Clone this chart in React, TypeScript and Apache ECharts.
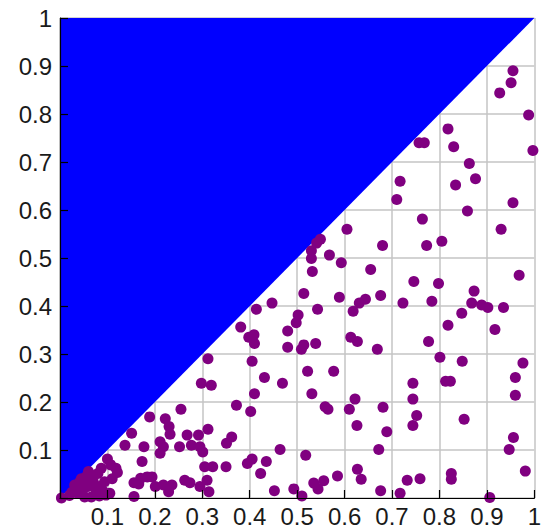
import React, { useEffect, useRef } from "react";
import * as echarts from "echarts";

// Boundary of the filled region (diagonal y = x, filled up to y = 1)
const diagonalX = [0, 1];
const diagonalY = [0, 1];

// Scatter points (x, y)
const pointsX = [
  0.955, 0.951, 0.927, 0.988, 0.818, 0.757, 0.768, 0.830, 0.997, 0.863,
  0.717, 0.876, 0.834, 0.710, 0.955, 0.859, 0.764, 0.605, 0.930, 0.680,
  0.773, 0.805, 0.549, 0.541, 0.530, 0.568, 0.530, 0.593,
  0.655, 0.532, 0.514, 0.589, 0.676, 0.447, 0.644, 0.631, 0.618, 0.414,
  0.543, 0.502, 0.498, 0.381, 0.480, 0.398, 0.409, 0.410, 0.613, 0.627,
  0.539, 0.514, 0.509, 0.480, 0.669, 0.405, 0.522, 0.577, 0.431, 0.469,
  0.410, 0.531, 0.622, 0.372, 0.559, 0.565, 0.610, 0.681, 0.402, 0.626,
  0.689, 0.464, 0.672, 0.518, 0.405, 0.395, 0.435, 0.423, 0.627, 0.635,
  0.585, 0.556, 0.535, 0.544, 0.452, 0.493, 0.510, 0.676,
  0.968, 0.746, 0.798, 0.873, 0.723, 0.784, 0.868, 0.889, 0.902, 0.935,
  0.847, 0.818, 0.917, 0.777, 0.801, 0.848, 0.976, 0.960, 0.960, 0.744,
  0.813, 0.823, 0.744, 0.752, 0.744, 0.852, 0.956, 0.947, 0.981, 0.825,
  0.825, 0.732, 0.759, 0.717, 0.906,
  0.312, 0.298, 0.319, 0.255, 0.189, 0.222, 0.230, 0.232, 0.151, 0.312,
  0.268, 0.292, 0.137, 0.177, 0.211, 0.218, 0.211, 0.252, 0.277, 0.295,
  0.301, 0.362, 0.351, 0.100, 0.173, 0.107, 0.118, 0.121, 0.087, 0.080,
  0.066, 0.055, 0.305, 0.322, 0.350, 0.310, 0.156, 0.170, 0.184, 0.194,
  0.166, 0.201, 0.218, 0.236, 0.229, 0.263, 0.274, 0.295, 0.314, 0.156,
  0.097, 0.003, 0.031, 0.042, 0.038, 0.048, 0.059, 0.073, 0.052, 0.066,
  0.076, 0.035, 0.083, 0.094, 0.083, 0.025, 0.045, 0.060, 0.070, 0.090,
  0.105, 0.020, 0.110,
];
const pointsY = [
  0.890, 0.865, 0.844, 0.798, 0.769, 0.740, 0.740, 0.732, 0.724, 0.697,
  0.660, 0.665, 0.652, 0.622, 0.615, 0.598, 0.581, 0.560, 0.560, 0.526,
  0.526, 0.535, 0.539, 0.531, 0.515, 0.506, 0.499, 0.490,
  0.476, 0.472, 0.426, 0.418, 0.422, 0.406, 0.414, 0.406, 0.389, 0.393,
  0.393, 0.381, 0.365, 0.356, 0.348, 0.335, 0.340, 0.322, 0.335, 0.326,
  0.322, 0.319, 0.310, 0.314, 0.310, 0.285, 0.264, 0.264, 0.251, 0.239,
  0.217, 0.217, 0.206, 0.193, 0.190, 0.185, 0.185, 0.189, 0.180, 0.151,
  0.138, 0.101, 0.101, 0.089, 0.081, 0.072, 0.076, 0.051, 0.060, 0.039,
  0.046, 0.036, 0.031, 0.019, 0.015, 0.019, 0.004, 0.015,
  0.464, 0.451, 0.447, 0.431, 0.406, 0.410, 0.406, 0.402, 0.397, 0.397,
  0.385, 0.360, 0.351, 0.326, 0.293, 0.285, 0.281, 0.251, 0.214, 0.239,
  0.243, 0.243, 0.206, 0.172, 0.151, 0.164, 0.126, 0.101, 0.056, 0.051,
  0.039, 0.037, 0.040, 0.010, 0.001,
  0.290, 0.239, 0.235, 0.185, 0.169, 0.165, 0.149, 0.133, 0.135, 0.143,
  0.131, 0.131, 0.110, 0.107, 0.117, 0.107, 0.093, 0.107, 0.110, 0.107,
  0.096, 0.127, 0.114, 0.081, 0.076, 0.069, 0.062, 0.053, 0.062, 0.051,
  0.048, 0.044, 0.065, 0.065, 0.065, 0.037, 0.032, 0.041, 0.044, 0.044,
  0.029, 0.024, 0.027, 0.027, 0.013, 0.037, 0.032, 0.024, 0.013, 0.003,
  0.006, 0.000, 0.027, 0.034, 0.010, 0.017, 0.024, 0.024, 0.002, 0.002,
  0.010, 0.020, 0.024, 0.034, 0.004, 0.012, 0.040, 0.055, 0.035, 0.015,
  0.010, 0.005, 0.040,
];

const FONT = "'Liberation Sans', Arial, sans-serif";

export default function App() {
  const ref = useRef<HTMLDivElement>(null);

  useEffect(() => {
    if (!ref.current) return;
    const chart = echarts.init(ref.current, undefined, { renderer: "svg" });

    const labelFmt = (v: number) => (Math.abs(v) < 1e-9 ? "" : String(+v.toFixed(1)));

    const baseAxis = {
      type: "value" as const,
      min: 0,
      max: 1,
      interval: 0.1,
    };

    chart.setOption({
      animation: false,
      backgroundColor: "#ffffff",
      grid: { left: 60, right: 3, top: 18, bottom: 33, containLabel: false },
      xAxis: [
        {
          ...baseAxis,
          position: "bottom",
          z: 0,
          axisLine: { show: false },
          axisTick: { show: false },
          splitLine: { show: true, lineStyle: { color: "#c4c4c4", width: 1.5 } },
          axisLabel: {
            formatter: labelFmt,
            fontSize: 24,
            fontFamily: FONT,
            color: "#1a1a1a",
            margin: 6,
            showMinLabel: true,
            showMaxLabel: true,
          },
        },
        {
          ...baseAxis,
          position: "bottom",
          z: 10,
          axisLine: { show: true, onZero: false, lineStyle: { color: "#000", width: 1.2 } },
          axisTick: { show: true, inside: true, length: 8, lineStyle: { color: "#000", width: 1.2 } },
          splitLine: { show: false },
          axisLabel: { show: false },
        },
      ],
      yAxis: [
        {
          ...baseAxis,
          position: "left",
          z: 0,
          axisLine: { show: false },
          axisTick: { show: false },
          splitLine: { show: true, lineStyle: { color: "#c4c4c4", width: 1.5 } },
          axisLabel: {
            formatter: labelFmt,
            fontSize: 24,
            fontFamily: FONT,
            color: "#1a1a1a",
            margin: 8,
            showMinLabel: true,
            showMaxLabel: true,
          },
        },
        {
          ...baseAxis,
          position: "left",
          z: 10,
          axisLine: { show: true, onZero: false, lineStyle: { color: "#000", width: 1.2 } },
          axisTick: { show: true, inside: true, length: 8, lineStyle: { color: "#000", width: 1.2 } },
          splitLine: { show: false },
          axisLabel: { show: false },
        },
      ],
      series: [
        {
          type: "line",
          xAxisIndex: 0,
          yAxisIndex: 0,
          z: 2,
          data: diagonalX.map((x, i) => [x, diagonalY[i]]),
          showSymbol: false,
          symbol: "none",
          lineStyle: { width: 0, color: "#0000ff" },
          areaStyle: { origin: "end", color: "#0000ff", opacity: 1 },
          silent: true,
        },
        {
          type: "scatter",
          xAxisIndex: 0,
          yAxisIndex: 0,
          z: 3,
          clip: false,
          symbol: "circle",
          symbolSize: 11,
          itemStyle: { color: "#800080", opacity: 1 },
          data: pointsX.map((x, i) => [x, pointsY[i]]),
        },
      ],
    });

    return () => chart.dispose();
  }, []);

  return (
    <div
      ref={ref}
      style={{ position: "fixed", left: 0, top: 0, width: 544, height: 531 }}
    />
  );
}
